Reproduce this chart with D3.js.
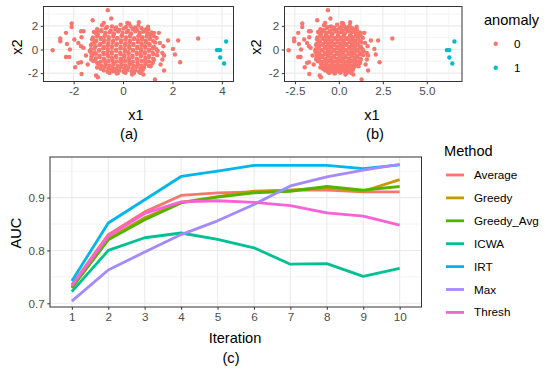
<!DOCTYPE html>
<html>
<head>
<meta charset="utf-8">
<script src="https://cdn.jsdelivr.net/npm/d3@7"></script>
<style>
  body { margin: 0; background: #fff; }
  text { font-family: "Liberation Sans", Arial, sans-serif; }
</style>
</head>
<body>
<div id="vis"></div>
<script>
// ---- data ----
const iterations = [1, 2, 3, 4, 5, 6, 7, 8, 9, 10];
const methods = ['Average', 'Greedy', 'Greedy_Avg', 'ICWA', 'IRT', 'Max', 'Thresh'];
const methodColours = ['#F8766D', '#C49A00', '#53B400', '#00C094', '#00B6EB', '#A58AFF', '#FB61D7'];

const aucAverage   = [0.735, 0.830, 0.873, 0.904, 0.909, 0.911, 0.914, 0.914, 0.911, 0.911];
const aucGreedy    = [0.730, 0.822, 0.862, 0.891, 0.902, 0.912, 0.914, 0.919, 0.912, 0.934];
const aucGreedyAvg = [0.729, 0.820, 0.858, 0.890, 0.901, 0.909, 0.912, 0.921, 0.914, 0.921];
const aucICWA      = [0.722, 0.800, 0.824, 0.833, 0.821, 0.805, 0.774, 0.775, 0.751, 0.766];
const aucIRT       = [0.742, 0.852, 0.896, 0.940, 0.950, 0.961, 0.961, 0.961, 0.955, 0.962];
const aucMax       = [0.704, 0.763, 0.797, 0.830, 0.856, 0.887, 0.922, 0.939, 0.952, 0.963];
const aucThresh    = [0.733, 0.827, 0.870, 0.892, 0.894, 0.891, 0.885, 0.871, 0.865, 0.848];

// normal points (anomaly = 0), same in panels (a) and (b)
const normalPts = [
  // outer points
  [-0.62,3.33],[-1.23,2.48],[-0.48,2.63],[-0.78,2.25],[-2.08,2.2],[-2.08,1.9],[-1.7,1.55],[-1.6,1.55],
  [-2.31,1.41],[-2.54,0.93],[-2.54,0.7],[-1.97,0.85],[-1.68,1.04],[-1.05,1.47],[-1.12,0.73],[-2.27,0.47],
  [-1.81,0.56],[-2.85,-0.06],[-2.15,0.0],[-1.7,0.28],[-1.6,0.14],[-2.31,-0.63],[-2.18,-0.63],[-1.5,-0.51],
  [-1.81,-1.13],[-1.7,-1.08],[-1.94,-1.5],[-1.43,-1.27],[-1.68,-2.07],[-1.09,-2.2],[-1.02,-2.35],
  [-0.42,-1.84],[-0.21,-1.98],[-1.29,-0.29],[-1.29,-0.85],
  [0.64,2.31],[0.17,2.25],[0.24,2.2],[1.45,1.41],[1.36,0.98],[1.82,0.76],[2.23,0.76],[3.04,0.93],
  [2.02,0.05],[1.63,0.28],[2.1,-0.42],[2.31,-1.08],[1.66,-1.78],[1.29,-2.54],[0.82,-2.12],[0.71,-1.98],
  [0.37,-2.12],[0.44,-1.98],[1.12,-1.42],[1.19,-1.14],[1.52,-1.27],[1.59,-0.85],[1.59,-0.29],[1.66,-0.51],
  [1.49,0.56],[1.12,1.27],[1.25,1.41],[0.91,1.69],[1.01,1.92],
  // core
  [-0.85,2.05],[-0.45,1.95],[-0.1,2.1],[0.3,1.98],[0.62,2.02],
  [-1.05,1.72],[-0.7,1.8],[-0.32,1.7],[0.02,1.78],[0.38,1.74],[0.75,1.8],[1.02,1.7],
  [-1.18,1.48],[-0.88,1.55],[-0.55,1.45],[-0.2,1.52],[0.15,1.47],[0.5,1.55],[0.82,1.5],[1.15,1.45],
  [-1.02,1.28],[-0.72,1.22],[-0.38,1.3],[-0.05,1.2],[0.3,1.27],[0.65,1.22],[0.98,1.3],
  [-1.22,1.02],[-0.9,0.97],[-0.58,1.05],[-0.22,0.98],[0.12,1.03],[0.45,0.96],[0.78,1.04],[1.1,0.98],
  [-1.08,0.72],[-0.75,0.78],[-0.4,0.73],[-0.08,0.77],[0.27,0.72],[0.6,0.78],[0.92,0.74],[1.22,0.7],
  [-1.25,0.5],[-0.92,0.47],[-0.6,0.53],[-0.25,0.48],[0.1,0.52],[0.42,0.47],[0.75,0.53],[1.05,0.49],
  [-1.12,0.27],[-0.78,0.22],[-0.45,0.28],[-0.1,0.23],[0.25,0.27],[0.58,0.22],[0.9,0.28],[1.25,0.24],
  [-1.3,0.02],[-0.95,-0.03],[-0.62,0.03],[-0.28,-0.02],[0.07,0.03],[0.4,-0.03],[0.73,0.02],[1.05,-0.02],[1.35,0.03],
  [-1.15,-0.23],[-0.8,-0.28],[-0.45,-0.22],[-0.12,-0.27],[0.22,-0.23],[0.55,-0.28],[0.88,-0.22],[1.2,-0.27],
  [-1.25,-0.48],[-0.95,-0.53],[-0.62,-0.47],[-0.28,-0.52],[0.05,-0.48],[0.38,-0.53],[0.72,-0.47],[1.05,-0.52],[1.38,-0.48],
  [-1.1,-0.73],[-0.78,-0.78],[-0.45,-0.72],[-0.1,-0.77],[0.22,-0.73],[0.55,-0.78],[0.9,-0.72],[1.22,-0.77],
  [-1.2,-0.98],[-0.9,-1.03],[-0.58,-0.97],[-0.25,-1.02],[0.08,-0.98],[0.4,-1.03],[0.75,-0.97],[1.05,-1.02],
  [-1.0,-1.23],[-0.7,-1.28],[-0.38,-1.22],[-0.05,-1.27],[0.28,-1.23],[0.6,-1.28],[0.92,-1.22],
  [-1.05,-1.52],[-0.75,-1.47],[-0.42,-1.53],[-0.1,-1.48],[0.22,-1.52],[0.55,-1.47],[0.85,-1.53],
  [-0.78,-1.77],[-0.45,-1.72],[-0.15,-1.78],[0.18,-1.73],[0.5,-1.77],[0.8,-1.72],
  [-0.55,-1.98],[-0.25,-2.03],[0.1,-1.97],[0.42,-2.02],
  // core, in-between rows
  [-0.65,1.9],[-0.28,1.86],[0.12,1.9],[0.48,1.87],
  [-0.88,1.64],[-0.5,1.6],[-0.15,1.65],[0.2,1.6],[0.57,1.63],[0.92,1.6],
  [-1.1,1.37],[-0.72,1.4],[-0.38,1.35],[-0.02,1.4],[0.33,1.36],[0.68,1.39],[1.0,1.36],
  [-1.05,1.1],[-0.75,1.14],[-0.4,1.1],[-0.05,1.14],[0.28,1.1],[0.62,1.13],[0.95,1.11],[1.25,1.12],
  [-1.25,0.86],[-0.9,0.88],[-0.58,0.85],[-0.25,0.9],[0.1,0.86],[0.43,0.88],[0.77,0.86],[1.08,0.88],
  [-1.15,0.62],[-0.78,0.6],[-0.42,0.64],[-0.08,0.6],[0.27,0.63],[0.6,0.61],[0.92,0.63],[1.3,0.6],
  [-1.3,0.37],[-0.95,0.39],[-0.62,0.35],[-0.28,0.38],[0.08,0.36],[0.42,0.39],[0.75,0.35],[1.08,0.38],
  [-1.15,0.12],[-0.8,0.1],[-0.45,0.14],[-0.1,0.1],[0.25,0.13],[0.57,0.11],[0.9,0.14],[1.2,0.1],
  [-1.35,-0.12],[-0.98,-0.1],[-0.62,-0.14],[-0.28,-0.11],[0.07,-0.13],[0.4,-0.1],[0.72,-0.14],[1.05,-0.11],[1.4,-0.13],
  [-1.1,-0.37],[-0.78,-0.39],[-0.45,-0.35],[-0.1,-0.38],[0.22,-0.36],[0.56,-0.39],[0.88,-0.35],[1.22,-0.38],
  [-1.28,-0.62],[-0.95,-0.64],[-0.6,-0.6],[-0.28,-0.63],[0.05,-0.61],[0.38,-0.64],[0.72,-0.6],[1.05,-0.63],
  [-1.12,-0.88],[-0.75,-0.86],[-0.42,-0.89],[-0.08,-0.85],[0.25,-0.88],[0.58,-0.86],[0.9,-0.89],[1.25,-0.86],
  [-1.05,-1.12],[-0.72,-1.1],[-0.4,-1.14],[-0.08,-1.1],[0.25,-1.13],[0.58,-1.11],[0.9,-1.14],[1.2,-1.1],
  [-0.88,-1.38],[-0.55,-1.35],[-0.22,-1.39],[0.1,-1.36],[0.42,-1.38],[0.75,-1.35],[1.05,-1.39],
  [-0.9,-1.63],[-0.6,-1.6],[-0.28,-1.64],[0.05,-1.61],[0.38,-1.63],[0.7,-1.6],
  [-0.62,-1.88],[-0.3,-1.86],[0.02,-1.89],[0.35,-1.86],[0.65,-1.88]
];
// anomaly = 1 points: x2 shared, x1 differs between panels
const anomX2  = [0.68, -0.05, -0.05, -0.05, -0.68, -1.19];
const anomX1a = [4.17, 3.80, 3.86, 3.93, 3.93, 4.09];
const anomX1b = [6.57, 6.14, 6.21, 6.28, 6.28, 6.45];

const ticksA_x = [-2, 0, 2, 4];
const ticksB_x = [-2.5, 0, 2.5, 5];
const ticksTop_y = [-2, 0, 2];
const ticksAuc = [0.7, 0.8, 0.9];

// ---- setup ----
const W = 554, H = 375;
const svg = d3.select('#vis').append('svg').attr('width', W).attr('height', H);
const gridCol = '#EBEBEB', borderCol = '#333333', tickTxt = '#4D4D4D';
const red = '#F8766D', teal = '#00BFC4';
// hyphen minus like R does
const fmtInt = d => d3.format('d')(d).replace('\u2212', '-');
const fmt1 = d => d3.format('.1f')(d).replace('\u2212', '-');

function gridLines(g, xs, ys, xScale, yScale, w) {
  xs.forEach(v => g.append('line').attr('x1', xScale(v)).attr('x2', xScale(v))
    .attr('y1', yScale.range()[0]).attr('y2', yScale.range()[1])
    .attr('stroke', gridCol).attr('stroke-width', w));
  ys.forEach(v => g.append('line').attr('y1', yScale(v)).attr('y2', yScale(v))
    .attr('x1', xScale.range()[0]).attr('x2', xScale.range()[1])
    .attr('stroke', gridCol).attr('stroke-width', w));
}

function axesFor(g, xScale, yScale, xTicks, yTicks, xFmt, yFmt) {
  const ax = d3.axisBottom(xScale).tickValues(xTicks).tickSize(2.75).tickPadding(2.5).tickFormat(xFmt);
  const ay = d3.axisLeft(yScale).tickValues(yTicks).tickSize(2.75).tickPadding(2.5).tickFormat(yFmt);
  const gx = g.append('g').attr('transform', `translate(0,${yScale.range()[0]})`).call(ax);
  const gy = g.append('g').attr('transform', `translate(${xScale.range()[0]},0)`).call(ay);
  [gx, gy].forEach(a => {
    a.select('.domain').remove();
    a.selectAll('.tick line').attr('stroke', borderCol).attr('stroke-width', 1);
    a.selectAll('.tick text').attr('fill', tickTxt).style('font-size', '11.7px')
      .style('font-family', '"Liberation Sans", Arial, sans-serif');
  });
}

function border(g, xScale, yScale) {
  const [x0, x1] = xScale.range(), [y0, y1] = yScale.range();
  g.append('rect').attr('x', x0).attr('y', y1).attr('width', x1 - x0).attr('height', y0 - y1)
    .attr('fill', 'none').attr('stroke', borderCol).attr('stroke-width', 1);
}

function label(txt, x, y, size, rot) {
  const t = svg.append('text').attr('text-anchor', 'middle').style('font-size', size + 'px')
    .attr('fill', '#000').text(txt);
  if (rot) t.attr('transform', `translate(${x},${y}) rotate(-90)`);
  else t.attr('x', x).attr('y', y);
  return t;
}

// ---- scatter panels ----
function scatterPanel(xDom, xRange, xMajor, xMinor, anomX1, xFmt, caption, capX, x1X, x2X) {
  const x = d3.scaleLinear().domain(xDom).range(xRange);
  const y = d3.scaleLinear().domain([-2.71, 3.64]).range([81.5, 6.5]);
  const g = svg.append('g');
  gridLines(g, xMinor, [-1, 1, 3], x, y, 0.55);
  gridLines(g, xMajor, ticksTop_y, x, y, 1.1);
  g.selectAll('.n').data(normalPts).enter().append('circle')
    .attr('cx', d => x(d[0])).attr('cy', d => y(d[1])).attr('r', 2.2).attr('fill', red);
  g.selectAll('.a').data(anomX1).enter().append('circle')
    .attr('cx', d => x(d)).attr('cy', (d, i) => y(anomX2[i])).attr('r', 2.2).attr('fill', teal);
  border(g, x, y);
  axesFor(g, x, y, xMajor, ticksTop_y, xFmt, fmtInt);
  label('x1', x1X, 120, 14.6);
  label('x2', x2X, 47, 14.6, true).attr('dy', '0.35em');
  label(caption, capX, 139, 14.6);
}
scatterPanel([-3.22, 4.47], [43.5, 233.5], ticksA_x, [-3, -1, 1, 3], anomX1a, fmtInt, '(a)', 129, 136, 17);
scatterPanel([-3.09, 7.0], [284.5, 462], ticksB_x, [-1.25, 1.25, 3.75, 6.25], anomX1b, fmt1, '(b)', 375, 372, 256);

// anomaly legend
svg.append('text').attr('x', 484).attr('y', 25).style('font-size', '14.6px').text('anomaly');
[['0', red], ['1', teal]].forEach((d, i) => {
  svg.append('circle').attr('cx', 495.7).attr('cy', 43.7 + i * 24).attr('r', 2.2).attr('fill', d[1]);
  svg.append('text').attr('x', 514).attr('y', 43.7 + i * 24).attr('dy', '0.35em')
    .style('font-size', '11.7px').text(d[0]);
});

// ---- line chart ----
const series = [aucAverage, aucGreedy, aucGreedyAvg, aucICWA, aucIRT, aucMax, aucThresh];
const x = d3.scalePoint().domain(iterations).range([50, 421.5]).padding(0.6);
const y = d3.scaleLinear().domain([0.693, 0.9768]).range([307, 157]);
const colour = d3.scaleOrdinal().domain(methods).range(methodColours);
const gc = svg.append('g');
gridLines(gc, [], [0.75, 0.85, 0.95], x, y, 0.55);
gridLines(gc, iterations, ticksAuc, x, y, 1.1);

const line = d3.line().x((d, i) => x(iterations[i])).y(d => y(d));
gc.selectAll('.ln').data(methods).enter().append('path')
  .attr('d', (m, i) => line(series[i]))
  .attr('fill', 'none').attr('stroke', m => colour(m)).attr('stroke-width', 2.8)
  .attr('stroke-linejoin', 'round');
border(gc, x, y);
axesFor(gc, x, y, iterations, ticksAuc, d3.format('d'), fmt1);

label('AUC', 16, 233, 14.6, true).attr('dy', '0.35em');
label('Iteration', 235, 343, 14.6);
label('(c)', 231, 363, 14.6);

// method legend
svg.append('text').attr('x', 444).attr('y', 156).style('font-size', '14.6px').text('Method');
methods.forEach((m, i) => {
  const yy = 175 + i * 22.9;
  svg.append('line').attr('x1', 446).attr('x2', 464).attr('y1', yy).attr('y2', yy)
    .attr('stroke', colour(m)).attr('stroke-width', 2.8);
  svg.append('text').attr('x', 474).attr('y', yy).attr('dy', '0.35em')
    .style('font-size', '11.7px').text(m);
});
</script>
</body>
</html>
